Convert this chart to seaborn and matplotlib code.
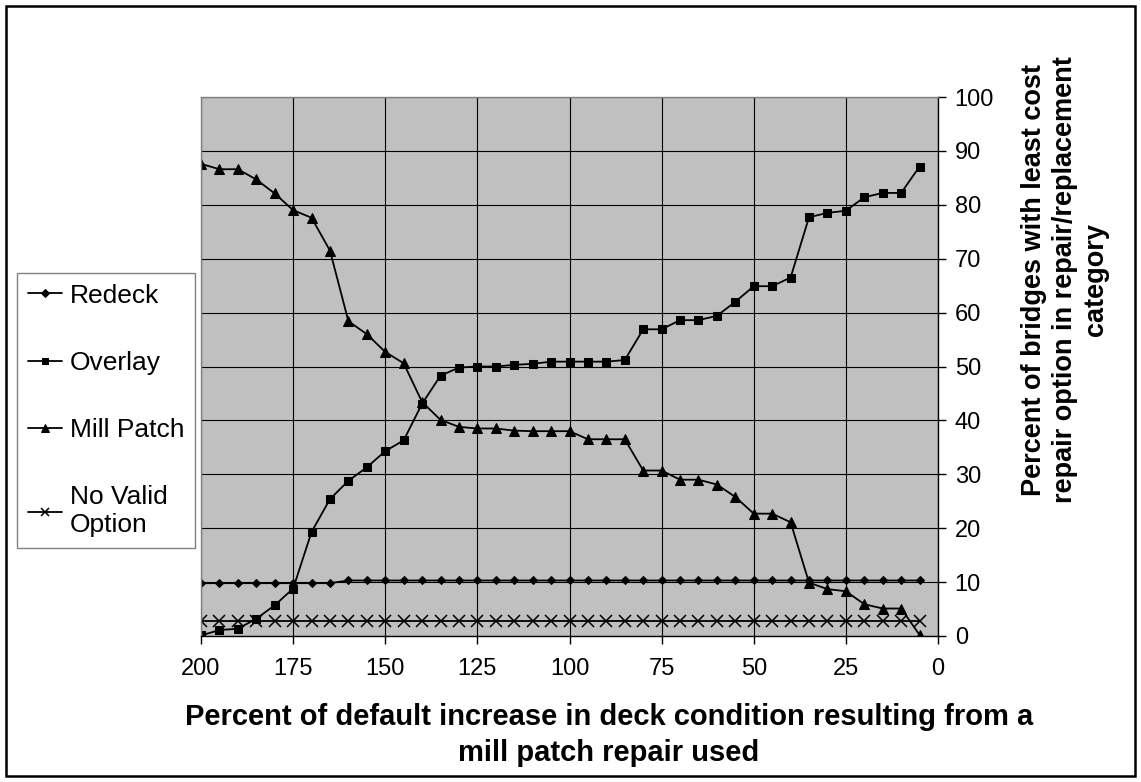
import matplotlib
matplotlib.use("Agg")
import matplotlib.pyplot as plt
from matplotlib.patches import Rectangle
import seaborn as sns
import pandas as pd

# ---- data ----
x_vals = [200, 195, 190, 185, 180, 175, 170, 165, 160, 155,
          150, 145, 140, 135, 130, 125, 120, 115, 110, 105,
          100, 95, 90, 85, 80, 75, 70, 65, 60, 55,
          50, 45, 40, 35, 30, 25, 20, 15, 10, 5]
redeck = [9.8, 9.8, 9.8, 9.8, 9.8, 9.8, 9.8, 9.8, 10.3, 10.3,
          10.3, 10.3, 10.3, 10.3, 10.3, 10.3, 10.3, 10.3, 10.3, 10.3,
          10.3, 10.3, 10.3, 10.3, 10.3, 10.3, 10.3, 10.3, 10.3, 10.3,
          10.3, 10.3, 10.3, 10.3, 10.3, 10.3, 10.3, 10.3, 10.3, 10.3]
overlay = [0.1, 1.1, 1.35, 3.2, 5.7, 8.8, 19.3, 25.4, 28.8, 31.3,
           34.3, 36.3, 43.1, 48.3, 49.8, 50.0, 50.0, 50.3, 50.5, 50.9,
           50.9, 50.9, 50.9, 51.2, 56.9, 56.9, 58.6, 58.6, 59.4, 62.0,
           64.9, 64.9, 66.5, 77.7, 78.5, 78.9, 81.4, 82.2, 82.2, 87.1]
mill_patch = [87.6, 86.6, 86.6, 84.7, 82.1, 79.0, 77.6, 71.5, 58.4, 56.0,
              52.7, 50.6, 43.4, 40.1, 38.8, 38.5, 38.5, 38.1, 38.0, 38.0,
              38.0, 36.5, 36.5, 36.5, 30.7, 30.7, 29.0, 29.0, 28.1, 25.8,
              22.7, 22.7, 21.1, 9.9, 8.7, 8.3, 5.9, 5.1, 5.1, 0.2]
no_valid = [2.8] * 40
series_names = ["Redeck", "Overlay", "Mill Patch", "No Valid\nOption"]
x_ticks = [200, 175, 150, 125, 100, 75, 50, 25, 0]
y_ticks = [0, 10, 20, 30, 40, 50, 60, 70, 80, 90, 100]
x_label = "Percent of default increase in deck condition resulting from a\nmill patch repair used"
y_label = "Percent of bridges with least cost\nrepair option in repair/replacement\ncategory"

# ---- style ----
sns.set_style("white")
plt.rcParams['font.family'] = ['Liberation Sans', 'DejaVu Sans']
plt.rcParams['text.color'] = 'black'
plt.rcParams['axes.labelcolor'] = 'black'
plt.rcParams['xtick.color'] = 'black'
plt.rcParams['ytick.color'] = 'black'

fig = plt.figure(figsize=(11.41, 7.82), dpi=100)
ax = fig.add_axes([201/1141, 1 - 636/782, 737/1141, 539/782])
ax.set_facecolor("#C0C0C0")

df = pd.DataFrame({"x": x_vals, "Redeck": redeck, "Overlay": overlay,
                   "Mill Patch": mill_patch, "No Valid\nOption": no_valid})

styles = {
    "Redeck": dict(marker="D", markersize=4.5),
    "Overlay": dict(marker="s", markersize=6),
    "Mill Patch": dict(marker="^", markersize=7),
    "No Valid\nOption": dict(marker="x", markersize=8, markeredgewidth=1.1),
}
for name in series_names:
    sns.lineplot(data=df, x="x", y=name, ax=ax, color="black", linewidth=1.3,
                 label=name, markeredgecolor="black", markerfacecolor="black",
                 **styles[name])

ax.set_xlim(200, 0)
ax.set_ylim(0, 100)
ax.set_xticks(x_ticks)
ax.set_yticks(y_ticks)
ax.grid(True, color="black", linewidth=0.8)
ax.set_axisbelow(True)

ax.yaxis.tick_right()
ax.tick_params(axis="both", which="both", direction="out", length=6, width=1,
               color="black", labelsize=17, labelcolor="black")
ax.tick_params(axis="x", pad=10, bottom=True)
ax.tick_params(axis="y", pad=6, right=True, left=False)

for side in ["left", "top"]:
    ax.spines[side].set_color("#808080")
    ax.spines[side].set_linewidth(1)
for side in ["right", "bottom"]:
    ax.spines[side].set_color("black")
    ax.spines[side].set_linewidth(1)

ax.set_xlabel(x_label, fontsize=21, fontweight="bold", linespacing=1.4,
              color="black")
ax.xaxis.set_label_coords((609 - 201) / 737, (636 - 735) / 539)
ax.xaxis.label.set_va("center")
ax.set_ylabel(y_label, fontsize=19.5, fontweight="bold", linespacing=1.25,
              rotation=90, color="black")
ax.yaxis.set_label_position("right")
ax.yaxis.set_label_coords((1065 - 201) / 737, (636 - 280) / 539)
ax.yaxis.label.set_va("center")
ax.yaxis.label.set_ha("center")
ax.yaxis.label.set_multialignment("center")

leg = ax.legend(loc="upper left", bbox_to_anchor=(17/1141, 1 - 273/782),
                bbox_transform=fig.transFigure, fontsize=19, frameon=True,
                fancybox=False, framealpha=1, edgecolor="#808080",
                handlelength=1.3, handletextpad=0.3, labelspacing=1.64,
                borderpad=0.4, borderaxespad=0, markerscale=0.8)
leg.get_frame().set_linewidth(1)
for t in leg.get_texts():
    t.set_color("black")

fig.patches.append(Rectangle((6/1141, 6/782), 1 - 12/1141, 1 - 12/782,
                             transform=fig.transFigure, fill=False,
                             edgecolor="black", linewidth=1.8))

fig.savefig("out.png", dpi=100, facecolor="white")
